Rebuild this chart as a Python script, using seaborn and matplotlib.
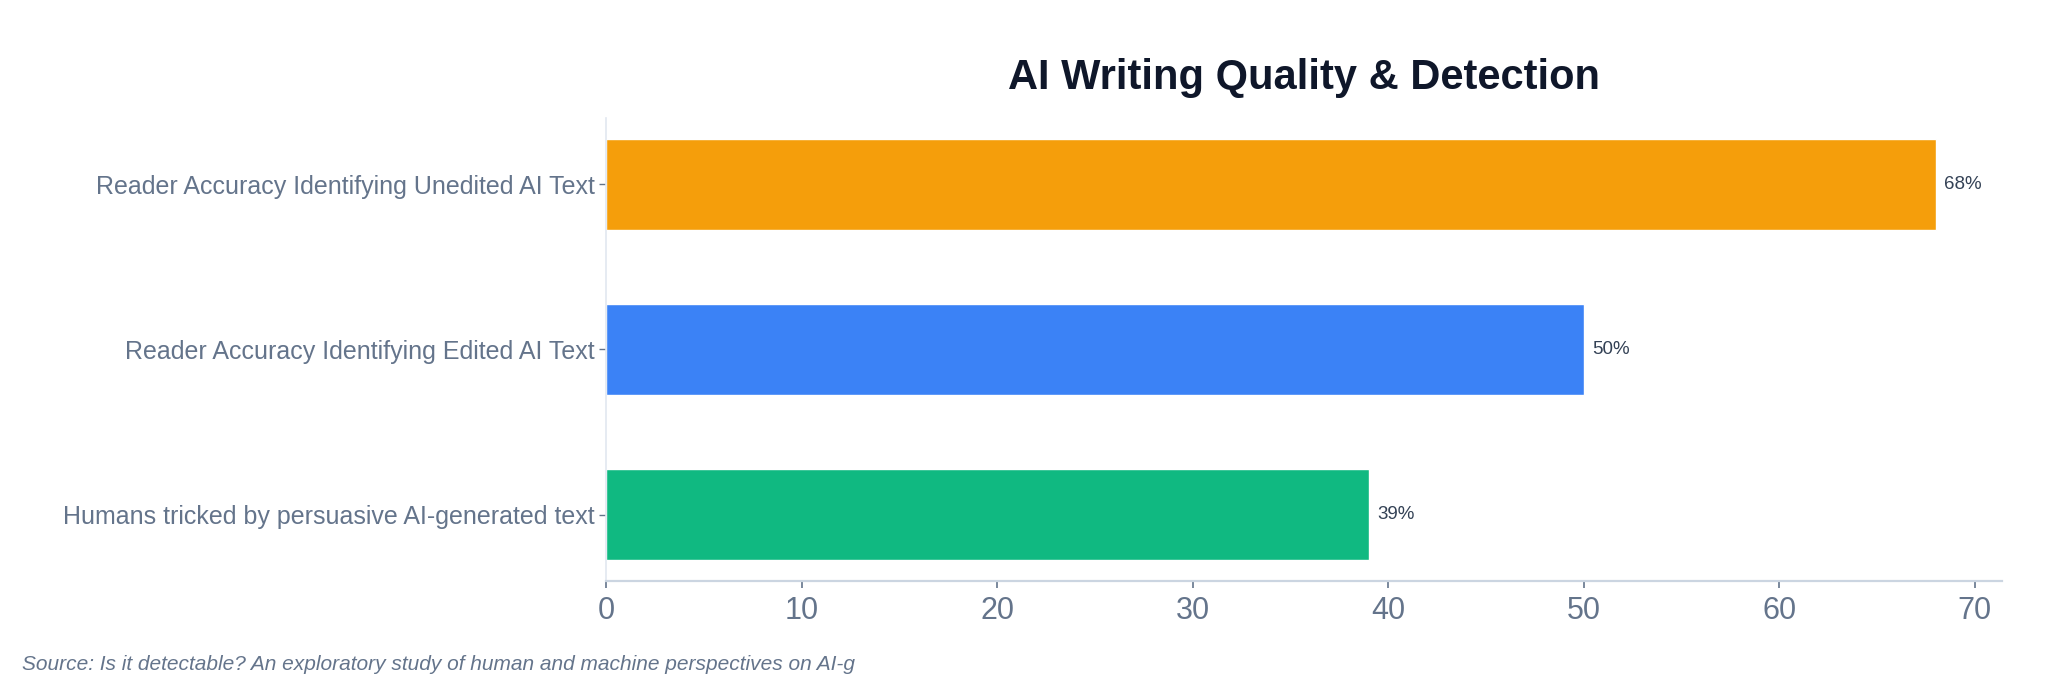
import pandas as pd
import seaborn as sns
import matplotlib
matplotlib.use("Agg")
import matplotlib.pyplot as plt

# chart data
categories = [
    "Reader Accuracy Identifying Unedited AI Text",
    "Reader Accuracy Identifying Edited AI Text",
    "Humans tricked by persuasive AI-generated text",
]
values = [68, 50, 39]
bar_colors = ["#F59E0B", "#3B82F6", "#10B981"]
x_ticks = [0, 10, 20, 30, 40, 50, 60, 70]
title = "AI Writing Quality & Detection"
source = "Source: Is it detectable? An exploratory study of human and machine perspectives on AI-g"

df = pd.DataFrame({"metric": categories, "value": values})

sns.set_style("white")
plt.rcParams["font.family"] = ["Liberation Sans", "DejaVu Sans"]

fig = plt.figure(figsize=(20.62, 6.9), dpi=100)
ax = fig.add_axes([0.2939, 0.158, 0.9709 - 0.2939, 0.829 - 0.158])

sns.barplot(data=df, y="metric", x="value", hue="metric",
            palette=bar_colors, orient="h", width=0.55,
            legend=False, ax=ax, saturation=1)

for cont, v in zip(ax.containers, values):
    ax.bar_label(cont, labels=[f"{v}%"], padding=6, fontsize=13.5, color="#334155")

ax.set_xlim(0, max(values) * 1.05)
ax.set_ylim(len(categories) - 0.6, -0.4)
ax.set_xticks(x_ticks)
ax.set_xlabel("")
ax.set_ylabel("")
ax.set_title(title, fontsize=30, fontweight="bold", color="#0F172A", pad=21)

sns.despine(ax=ax)
ax.spines["left"].set_color("#E2E8F0")
ax.spines["bottom"].set_color("#CBD5E1")
ax.spines["bottom"].set_linewidth(1.6)
ax.spines["left"].set_linewidth(1.2)

# ticks are off in the "white" style, turn them back on
ax.tick_params(axis="x", bottom=True, labelsize=22, labelcolor="#64748B",
               color="#64748B", length=5, width=1.2, pad=6)
ax.tick_params(axis="y", left=True, labelsize=18, labelcolor="#64748B",
               color="#64748B", length=5, width=1.0, pad=3)

fig.text(0.0107, 0.029, source, fontsize=15, style="italic", color="#64748B")

fig.savefig("out.png", dpi=100, facecolor="white")
